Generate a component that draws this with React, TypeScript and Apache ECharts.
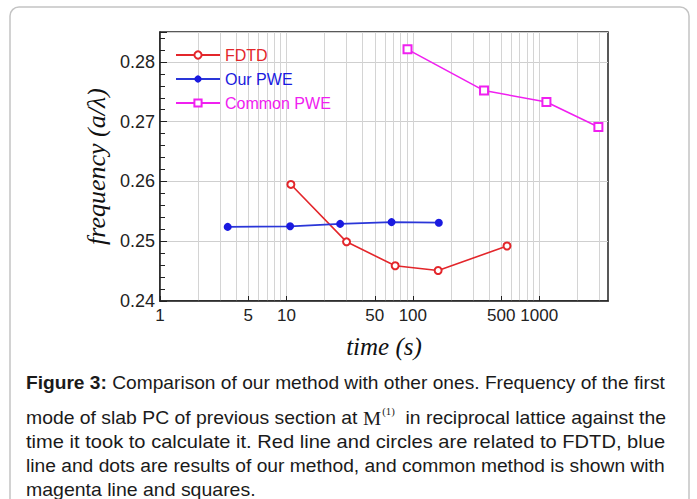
import React, { useEffect, useRef } from 'react';
import * as echarts from 'echarts';

// ---- data ----
const fdtdTime = [10.85, 29.9, 72.5, 158.6, 556];
const fdtdFreq = [0.2595, 0.2499, 0.2459, 0.2451, 0.2492];
const ourTime = [3.43, 10.7, 26.6, 67.9, 160.6];
const ourFreq = [0.2524, 0.2525, 0.2529, 0.2532, 0.2531];
const commonTime = [90.8, 366, 1140, 2938];
const commonFreq = [0.2821, 0.2752, 0.2733, 0.2691];

const seriesNames = ['FDTD', 'Our PWE', 'Common PWE'];
const seriesColors = ['#e3262b', '#1a1ae0', '#f020f0'];

const xTickLabels = [1, 5, 10, 50, 100, 500, 1000];
const xGridValues = [
  1, 2, 3, 4, 5, 6, 7, 8, 9,
  10, 20, 30, 40, 50, 60, 70, 80, 90,
  100, 200, 300, 400, 500, 600, 700, 800, 900,
  1000, 2000, 3000,
];
const xMin = 1;
const xMax = 3500;
const yMin = 0.24;
const yMax = 0.285;
const yInterval = 0.01;

type Seg = { t: string; s?: string };
const captionLines: Seg[][] = [
  [{ t: 'Figure 3:', s: 'b' }, { t: ' Comparison of our method with other ones. Frequency of the first' }],
  [{ t: 'mode of slab PC of previous section at ' }, { t: 'M', s: 'm' }, { t: '(1)', s: 'sup' }, { t: '  in reciprocal lattice against the' }],
  [{ t: 'time it took to calculate it. Red line and circles are related to FDTD, blue' }],
  [{ t: 'line and dots are results of our method, and common method is shown with' }],
  [{ t: 'magenta line and squares.' }],
];
const captionY = [383, 418, 442, 466, 490];

const CAP_FONT = 18;
const fontOf: Record<string, string> = {
  n: `${CAP_FONT}px "Liberation Sans"`,
  b: `bold ${CAP_FONT}px "Liberation Sans"`,
  m: `19px "Liberation Serif"`,
  sup: `10px "Liberation Serif"`,
};

function measureLine(segs: Seg[]): number {
  const c = document.createElement('canvas');
  const ctx = c.getContext('2d');
  if (!ctx) return 600;
  let w = 0;
  for (const s of segs) {
    ctx.font = fontOf[s.s || 'n'];
    w += ctx.measureText(s.t).width;
  }
  return w;
}

export default function App() {
  const ref = useRef<HTMLDivElement>(null);
  useEffect(() => {
    if (!ref.current) return;
    const chart = echarts.init(ref.current, undefined, { renderer: 'svg' });

    const left = 26;
    const fullW = 639;
    const widths = captionLines.map(measureLine);
    const scales = widths.map((w) => fullW / w);
    const avgScale = (scales[0] + scales[2] + scales[3]) / 3;

    const captionEls = captionLines.map((segs, i) => ({
      type: 'text',
      x: left,
      y: captionY[i],
      scaleX: i === captionLines.length - 1 ? avgScale : scales[i],
      style: {
        text: segs.map((s) => (s.s ? `{${s.s}|${s.t}}` : s.t)).join(''),
        fontSize: CAP_FONT,
        fontFamily: 'Liberation Sans',
        fill: '#1a1a1a',
        verticalAlign: 'middle',
        rich: {
          b: { fontSize: CAP_FONT, fontFamily: 'Liberation Sans', fontWeight: 'bold', fill: '#1a1a1a' },
          m: { fontSize: 19, fontFamily: 'Liberation Serif', fill: '#1a1a1a' },
          sup: { fontSize: 10, fontFamily: 'Liberation Serif', fill: '#1a1a1a', verticalAlign: 'top', padding: [0, 0, 12, 1] },
        },
      },
    }));

    const mkData = (xs: number[], ys: number[]) => xs.map((x, i) => [x, ys[i]]);

    chart.setOption({
      animation: false,
      backgroundColor: '#ffffff',
      grid: {
        left: 160,
        right: 89,
        top: 32,
        bottom: 198,
        show: true,
        borderColor: '#222',
        borderWidth: 1.5,
        backgroundColor: 'transparent',
      },
      legend: {
        orient: 'vertical',
        left: 170,
        top: 42,
        itemWidth: 44,
        itemHeight: 9,
        itemGap: 8,
        textStyle: { fontSize: 16, fontFamily: 'Liberation Sans' },
        data: seriesNames.map((n, i) => ({ name: n, textStyle: { color: seriesColors[i] } })),
      },
      xAxis: [
        {
          type: 'log',
          logBase: 10,
          min: xMin,
          max: xMax,
          name: 'time (s)',
          nameLocation: 'middle',
          nameGap: 33,
          nameTextStyle: { fontFamily: 'Liberation Serif', fontStyle: 'italic', fontSize: 25, color: '#111' },
          axisLine: { show: true, lineStyle: { color: '#222', width: 1.5 } },
          axisTick: { show: true, inside: true, length: 5, customValues: xTickLabels, lineStyle: { color: '#222' } },
          axisLabel: {
            customValues: xTickLabels,
            fontSize: 17,
            fontFamily: 'Liberation Sans',
            color: '#222',
            margin: 6,
            formatter: (v: number) => String(Math.round(v)),
          },
          splitLine: { show: false },
        },
        {
          type: 'log',
          logBase: 10,
          min: xMin,
          max: xMax,
          position: 'bottom',
          axisLine: { show: false },
          axisTick: { show: false, customValues: xGridValues },
          axisLabel: { show: false, customValues: xGridValues },
          splitLine: { show: true, customValues: xGridValues, lineStyle: { color: '#d4d4d4', width: 1 } },
        },
      ],
      yAxis: {
        type: 'value',
        min: yMin,
        max: yMax,
        interval: yInterval,
        name: 'frequency (a/λ)',
        nameLocation: 'middle',
        nameGap: 43,
        nameTextStyle: { fontFamily: 'Liberation Serif', fontStyle: 'italic', fontSize: 26, color: '#111' },
        axisLine: { show: true, lineStyle: { color: '#222', width: 1.5 } },
        axisTick: { show: true, inside: true, length: 7, lineStyle: { color: '#222' } },
        minorTick: { show: true, splitNumber: 5, length: 5, lineStyle: { color: '#222' } },
        axisLabel: {
          fontSize: 18,
          fontFamily: 'Liberation Sans',
          color: '#222',
          margin: 5,
          showMaxLabel: false,
          formatter: (v: number) => (v > 0.2805 ? '' : v.toFixed(2)),
        },
        splitLine: { show: true, lineStyle: { color: '#cfcfcf', width: 1 } },
      },
      series: [
        {
          name: seriesNames[0],
          type: 'line',
          data: mkData(fdtdTime, fdtdFreq),
          symbol: 'emptyCircle',
          symbolSize: 7,
          color: seriesColors[0],
          lineStyle: { width: 1.6, color: seriesColors[0] },
          itemStyle: { color: seriesColors[0], borderColor: seriesColors[0], borderWidth: 1.3 },
        },
        {
          name: seriesNames[1],
          type: 'line',
          data: mkData(ourTime, ourFreq),
          symbol: 'circle',
          symbolSize: 8,
          color: seriesColors[1],
          lineStyle: { width: 1.8, color: '#2a36d8' },
          itemStyle: { color: seriesColors[1] },
        },
        {
          name: seriesNames[2],
          type: 'line',
          data: mkData(commonTime, commonFreq),
          symbol: 'emptyRect',
          symbolSize: 8,
          color: seriesColors[2],
          lineStyle: { width: 1.6, color: seriesColors[2] },
          itemStyle: { color: seriesColors[2], borderColor: seriesColors[2], borderWidth: 1.3 },
        },
      ],
      graphic: [
        {
          type: 'rect',
          shape: { x: 10, y: 7, width: 679, height: 620, r: 9 },
          style: { fill: 'none', stroke: '#c4c4c4', lineWidth: 1.5 },
          silent: true,
        },
        ...captionEls,
      ],
    });
    return () => chart.dispose();
  }, []);

  return (
    <div
      ref={ref}
      style={{ position: 'absolute', left: 0, top: 0, width: 697, height: 499, background: '#fff' }}
    />
  );
}
